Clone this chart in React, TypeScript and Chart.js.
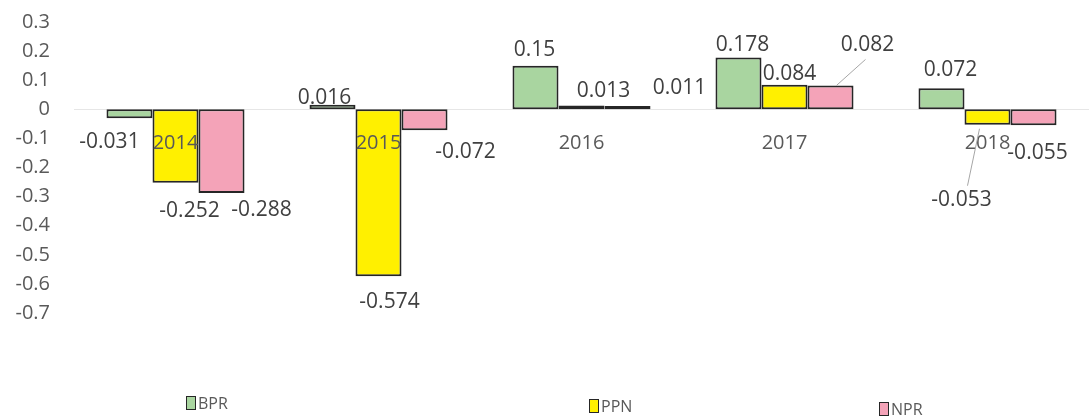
import React, { useEffect, useRef } from "react";
import { Chart, registerables } from "chart.js";

Chart.register(...registerables);

const categories = ["2014", "2015", "2016", "2017", "2018"];
const bprValues = [-0.031, 0.016, 0.15, 0.178, 0.072];
const ppnValues = [-0.252, -0.574, 0.013, 0.084, -0.053];
const nprValues = [-0.288, -0.072, 0.011, 0.082, -0.055];
const seriesNames = ["BPR", "PPN", "NPR"];
const seriesColors = ["#A9D5A0", "#FFF000", "#F4A3B8"];

// label offsets (dx, dy, leader) relative to the bar tip, per series
const labelOffsets: [number, number, boolean][][] = [
  [[-20, 24, false], [-8, -7, false], [-1, -16, false], [4, -12, false], [9, -18, false]],
  [[14, 28, false], [11, 26, false], [22, -15, false], [5, -11, false], [-26, 75, true]],
  [[40, 17, false], [41, 22, false], [52, -18, false], [37, -40, true], [4, 28, false]],
];

const FONT = "'Open Sans', 'Noto Sans', sans-serif";

const zeroLinePlugin = {
  id: "zeroLine",
  beforeDatasetsDraw(chart: any) {
    const { ctx, chartArea, scales } = chart;
    const y0 = Math.round(scales.y.getPixelForValue(0)) + 0.5;
    ctx.save();
    ctx.strokeStyle = "#e6e6e6";
    ctx.lineWidth = 1;
    ctx.beginPath();
    ctx.moveTo(chartArea.left, y0);
    ctx.lineTo(chartArea.right, y0);
    ctx.stroke();
    ctx.restore();
  },
};

const labelsPlugin = {
  id: "dataLabels",
  afterDatasetsDraw(chart: any) {
    const ctx = chart.ctx;
    const { scales } = chart;
    ctx.save();
    // category labels near the zero line
    const y0 = scales.y.getPixelForValue(0);
    ctx.fillStyle = "#595959";
    ctx.font = `20px ${FONT}`;
    ctx.textAlign = "center";
    ctx.textBaseline = "middle";
    chart.data.labels.forEach((lab: string, i: number) => {
      ctx.fillText(lab, scales.x.getPixelForValue(i), y0 + 34);
    });
    chart.data.datasets.forEach((ds: any, di: number) => {
      const meta = chart.getDatasetMeta(di);
      meta.data.forEach((el: any, i: number) => {
        const [dx, dy, leader] = labelOffsets[di][i];
        const lx = el.x + dx;
        const ly = el.y + dy;
        if (leader) {
          ctx.strokeStyle = "#a6a6a6";
          ctx.lineWidth = 1;
          ctx.beginPath();
          const dir = el.y > ly ? 1 : -1;
          ctx.moveTo(lx + (dir > 0 ? -2 : 6), ly + dir * 14);
          ctx.lineTo(el.x + (dir > 0 ? 6 : -8), el.y + (dir > 0 ? 0 : 4));
          ctx.stroke();
        }
        ctx.fillStyle = "#404040";
        ctx.font = `21px ${FONT}`;
        ctx.textAlign = "center";
        ctx.textBaseline = "middle";
        ctx.fillText(String(ds.data[i]), lx, ly);
      });
    });
    ctx.restore();
  },
};

export default function App() {
  const canvasRef = useRef<HTMLCanvasElement | null>(null);

  useEffect(() => {
    if (!canvasRef.current) return;
    const seriesValues = [bprValues, ppnValues, nprValues];
    const chart = new Chart(canvasRef.current, {
      type: "bar",
      data: {
        labels: categories,
        datasets: seriesNames.map((name, k) => ({
          label: name,
          data: seriesValues[k],
          backgroundColor: seriesColors[k],
          borderColor: "#262626",
          borderWidth: 2,
          borderSkipped: false,
          categoryPercentage: 0.68,
          barPercentage: 1.0,
        })),
      },
      options: {
        animation: false,
        responsive: false,
        maintainAspectRatio: false,
        layout: { padding: { top: 22, bottom: 107, right: 0, left: 0 } },
        plugins: {
          legend: { display: false },
          tooltip: { enabled: false },
        },
        scales: {
          x: {
            display: false,
          },
          y: {
            min: -0.7,
            max: 0.3,
            grid: { display: false, drawTicks: false },
            border: { display: false },
            afterFit: (s: any) => {
              s.width = 74;
              s.paddingTop = 0;
              s.paddingBottom = 0;
            },
            ticks: {
              stepSize: 0.1,
              color: "#595959",
              font: { size: 20, family: FONT },
              padding: 24,
              callback: (v: any) => {
                const n = Math.round(Number(v) * 10) / 10;
                return n === 0 ? "0" : String(n);
              },
            },
          },
        },
      },
      plugins: [zeroLinePlugin, labelsPlugin],
    });
    return () => chart.destroy();
  }, []);

  const legendPos = [
    { left: 186, top: 394 },
    { left: 589, top: 397 },
    { left: 879, top: 400 },
  ];

  return (
    <div style={{ position: "absolute", left: 0, top: 0, width: 1089, height: 420, background: "#fff" }}>
      <canvas ref={canvasRef} width={1089} height={420} style={{ position: "absolute", left: 0, top: 0 }} />
      {seriesNames.map((name, k) => (
        <div
          key={name}
          style={{
            position: "absolute",
            left: legendPos[k].left,
            top: legendPos[k].top,
            display: "flex",
            alignItems: "center",
            fontFamily: FONT,
            fontSize: 16,
            color: "#595959",
            lineHeight: "18px",
          }}
        >
          <span
            style={{
              display: "inline-block",
              width: 8,
              height: 12,
              background: seriesColors[k],
              border: "1.5px solid #262626",
              marginRight: 2,
            }}
          />
          {name}
        </div>
      ))}
    </div>
  );
}
